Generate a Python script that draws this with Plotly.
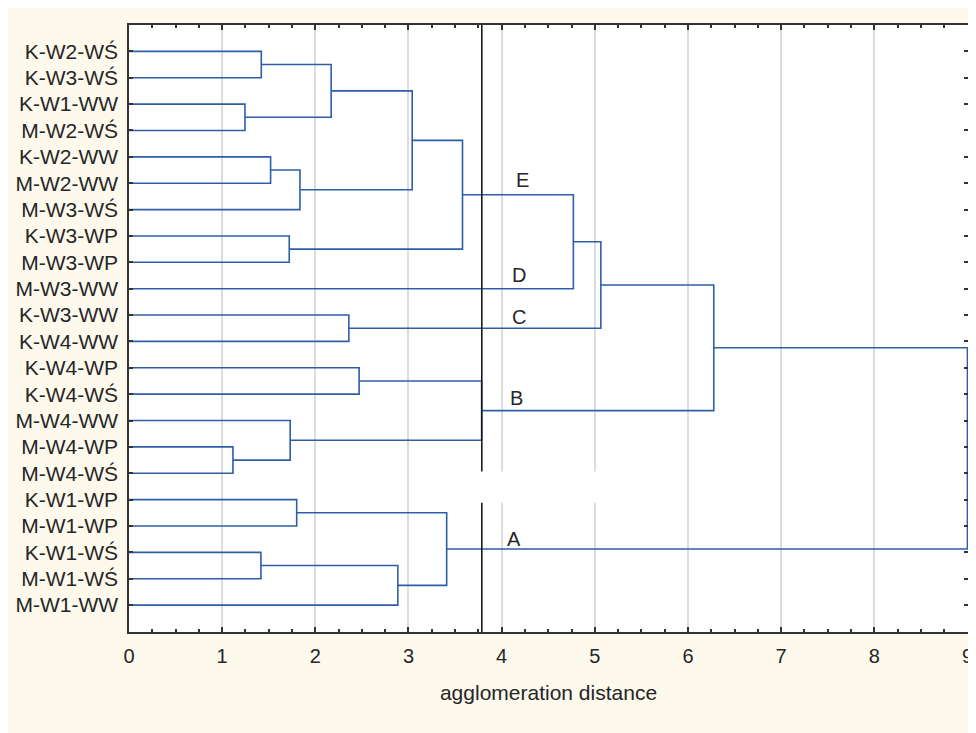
import plotly.graph_objects as go

# ---- data ----
leaves = ["K-W2-WŚ", "K-W3-WŚ", "K-W1-WW", "M-W2-WŚ", "K-W2-WW", "M-W2-WW",
          "M-W3-WŚ", "K-W3-WP", "M-W3-WP", "M-W3-WW", "K-W3-WW", "K-W4-WW",
          "K-W4-WP", "K-W4-WŚ", "M-W4-WW", "M-W4-WP", "M-W4-WŚ", "K-W1-WP",
          "M-W1-WP", "K-W1-WŚ", "M-W1-WŚ", "M-W1-WW"]
# merges: node ids < 22 are leaves, node 22+k is merge k
merge_left = [0, 2, 22, 4, 25, 24, 7, 27, 29, 10, 30, 12, 15, 14, 33, 32, 17, 19, 39, 38, 37]
merge_right = [1, 3, 23, 5, 6, 26, 8, 28, 9, 11, 31, 13, 16, 34, 35, 36, 18, 20, 21, 40, 41]
merge_dist = [1.42, 1.245, 2.17, 1.52, 1.835, 3.04, 1.72, 3.58, 4.77, 2.36, 5.065,
              2.47, 1.116, 1.73, 3.785, 6.277, 1.80, 1.416, 2.886, 3.41, 9.0]
cut_distance = 3.787
cluster_names = ["E", "D", "C", "B", "A"]
x_ticks = [0, 1, 2, 3, 4, 5, 6, 7, 8, 9]

# ---- build dendrogram geometry ----
n = len(leaves)
ypos = {i: float(i) for i in range(n)}
height = {i: 0.0 for i in range(n)}
xs, ys = [], []
for k, (a, b, d) in enumerate(zip(merge_left, merge_right, merge_dist)):
    node = n + k
    xs += [height[a], d, d, height[b], None]
    ys += [ypos[a], ypos[a], ypos[b], ypos[b], None]
    ypos[node] = (ypos[a] + ypos[b]) / 2
    height[node] = d

LINE = "rgb(46,94,168)"
TXT = "#262626"
FONT = "Liberation Sans, Arial, sans-serif"

fig = go.Figure()
fig.add_trace(go.Scatter(x=xs, y=ys, mode="lines",
                         line=dict(color=LINE, width=1.6), hoverinfo="skip",
                         showlegend=False))

# cluster label annotations
label_pos = [(4.22, 4.89), (4.19, 8.49), (4.19, 10.08), (4.16, 13.15), (4.13, 18.5)]
for name, (lx, ly) in zip(cluster_names, label_pos):
    fig.add_annotation(x=lx, y=ly, text=name, showarrow=False,
                       font=dict(size=20, color=TXT, family=FONT))

shapes = [
    # cut line
    dict(type="line", xref="x", yref="y", x0=cut_distance, x1=cut_distance, y0=-1, y1=22.05,
         line=dict(color="#1a1a1a", width=1.6), layer="above"),
    # white gap
    dict(type="rect", xref="x", yref="y", x0=3.7, x1=5.5, y0=15.93, y1=17.12,
         fillcolor="white", line=dict(width=0), layer="above"),
]

fig.update_layout(
    width=976, height=733,
    paper_bgcolor="rgb(253,249,237)", plot_bgcolor="white",
    margin=dict(l=121, r=16, t=17, b=109),
    shapes=shapes,
    font=dict(family=FONT, size=20, color=TXT),
    xaxis=dict(range=[0, 9.006], tickvals=x_ticks, ticks="inside", ticklen=5,
               tickcolor="#333", tickwidth=1.5, automargin=False,
               showline=True, linecolor="#333", linewidth=1.5, mirror="ticks",
               showgrid=True, gridcolor="#dcdcdc", gridwidth=1.5, zeroline=False,
               minor=dict(dtick=0.25, ticks="inside", ticklen=3, tickcolor="#333",
                          showgrid=False),
               ticklabelstandoff=5,
               tickfont=dict(size=20, color=TXT),
               title=dict(text="agglomeration distance", font=dict(size=21, color=TXT),
                          standoff=20)),
    yaxis=dict(range=[22.02, -1.0], tickvals=list(range(n)), ticktext=leaves,
               ticks="inside", ticklen=4, tickcolor="#333", tickwidth=1.5,
               automargin=False,
               showline=True, linecolor="#333", linewidth=1.5, mirror="ticks",
               showgrid=False, zeroline=False, ticklabelstandoff=5,
               tickfont=dict(size=21, color=TXT)),
)

fig.write_html("out.html")
